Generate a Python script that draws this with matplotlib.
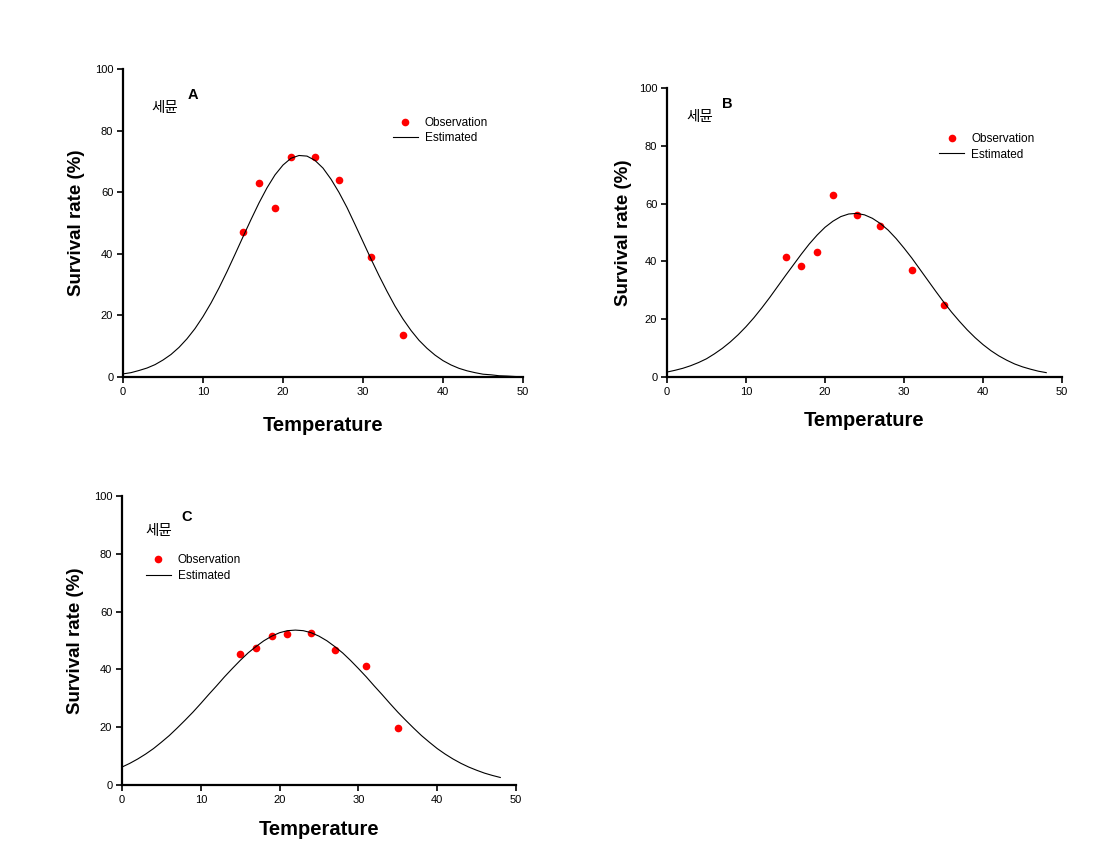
import matplotlib
matplotlib.use('Agg')
import matplotlib.pyplot as plt

plt.rcParams['font.family'] = ['Liberation Sans', 'DejaVu Sans']

#관측 온도 (세 패널 공통)
obsTemp = [15, 17, 19, 21, 24, 27, 31, 35]
#관측 생존율
obsA = [47.0, 63.0, 54.8, 71.4, 71.5, 64.0, 39.0, 13.6]
obsB = [41.4, 38.5, 43.3, 63.0, 56.0, 52.1, 37.0, 24.9]
obsC = [45.2, 47.4, 51.6, 52.2, 52.6, 46.7, 41.2, 19.6]

#추정 곡선 (그림에서 1도 간격으로 읽은 값)
estTempA = list(range(50)) + [49.5]
estA = [1.0, 1.4, 2.1, 2.9, 4.0, 5.5, 7.3, 9.6, 12.4, 15.7,
	19.6, 24.0, 28.9, 34.2, 39.8, 45.5, 51.1, 56.5, 61.4, 65.6,
	68.8, 71.0, 71.9, 71.7, 70.3, 67.8, 64.2, 59.9, 55.0, 49.5,
	43.9, 38.3, 32.9, 27.8, 23.0, 18.8, 15.1, 11.9, 9.3, 7.1,
	5.3, 3.9, 2.8, 2.0, 1.4, 0.9, 0.7, 0.4, 0.3, 0.15, 0.1]
estTempB = list(range(49))
estB = [1.7, 2.3, 3.0, 3.9, 5.0, 6.3, 8.0, 9.9, 12.1, 14.6,
	17.4, 20.5, 23.9, 27.5, 31.3, 35.1, 38.8, 42.5, 46.0, 49.1,
	51.8, 53.9, 55.5, 56.4, 56.6, 56.1, 54.9, 53.1, 50.8, 47.9,
	44.6, 41.1, 37.3, 33.5, 29.7, 26.0, 22.5, 19.3, 16.3, 13.6,
	11.2, 9.1, 7.3, 5.8, 4.5, 3.5, 2.7, 2.0, 1.5]
estTempC = list(range(49))
estC = [6.2, 7.5, 9.0, 10.7, 12.6, 14.8, 17.1, 19.7, 22.4, 25.2,
	28.2, 31.3, 34.3, 37.4, 40.3, 43.1, 45.7, 47.9, 49.9, 51.5,
	52.7, 53.4, 53.6, 53.4, 52.7, 51.5, 49.9, 47.9, 45.7, 43.1,
	40.3, 37.4, 34.3, 31.3, 28.2, 25.2, 22.4, 19.7, 17.1, 14.8,
	12.6, 10.7, 9.0, 7.5, 6.2, 5.1, 4.1, 3.3, 2.6]

xTicks = [0, 10, 20, 30, 40, 50]
yTicks = [0, 20, 40, 60, 80, 100]
korLabel = '세뮨'


def drawPanel(fig, rect, temp, obs, estT, est, letter, legPos, korPos, letPos, xlPad, ylPad):
	'''한 패널 그리기'''
	ax = fig.add_axes(rect)
	ax.plot(temp, obs, 'o', color='red', markersize=5.5, markeredgewidth=0, label='Observation')
	ax.plot(estT, est, '-', color='black', linewidth=0.8, label='Estimated')
	ax.set_xlim(0, 50)
	ax.set_ylim(0, 100)
	ax.set_xticks(xTicks)
	ax.set_yticks(yTicks)
	for s in ['top', 'right']:
		ax.spines[s].set_visible(False)
	for s in ['left', 'bottom']:
		ax.spines[s].set_linewidth(1.6)
	ax.tick_params(direction='out', length=4, width=1.2, labelsize=8, pad=3, colors='black')
	ax.set_xlabel('Temperature', fontsize=14.5, fontweight='bold', labelpad=xlPad)
	ax.set_ylabel('Survival rate (%)', fontsize=13.5, fontweight='bold', labelpad=ylPad)
	ax.legend(loc='upper left', bbox_to_anchor=legPos, frameon=False, fontsize=8.5,
		handlelength=2.1, handletextpad=0.6, labelspacing=0.3, borderpad=0, borderaxespad=0,
		numpoints=1)
	ax.text(korPos[0], korPos[1], korLabel, transform=ax.transAxes, fontsize=10.5,
		family=['Noto Sans CJK KR', 'DejaVu Sans'], va='center', ha='left')
	ax.text(letPos[0], letPos[1], letter, transform=ax.transAxes, fontsize=10.5,
		fontweight='bold', va='center', ha='left')
	return ax


fig = plt.figure(figsize=(11.1, 8.67), dpi=100)

drawPanel(fig, [0.1108, 0.5652, 0.3604, 0.3553], obsTemp, obsA, estTempA, estA, 'A',
	(0.675, 0.845), (0.070, 0.874), (0.1625, 0.916), 14, 7)
drawPanel(fig, [0.6009, 0.5652, 0.3559, 0.3333], obsTemp, obsB, estTempB, estB, 'B',
	(0.689, 0.844), (0.048, 0.900), (0.139, 0.945), 10, 5)
drawPanel(fig, [0.1099, 0.0946, 0.3550, 0.3333], obsTemp, obsC, estTempC, estC, 'C',
	(0.061, 0.798), (0.059, 0.880), (0.150, 0.927), 11, 7)

fig.savefig('out.png', dpi=100)
